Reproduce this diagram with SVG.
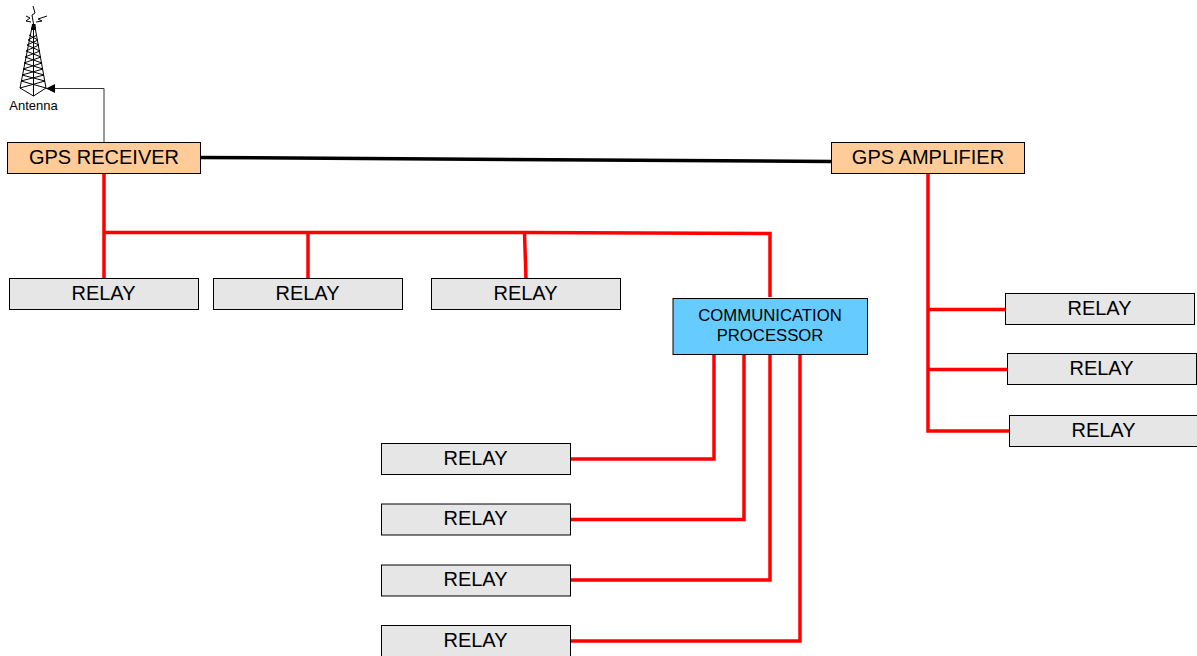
<svg xmlns="http://www.w3.org/2000/svg" width="1197" height="656" viewBox="0 0 1197 656">
<style>
text{font-family:"Liberation Sans",Arial,sans-serif;fill:#000;text-anchor:middle}
.t{font-size:20px}
.box{stroke:#000;stroke-width:1}
.relay{fill:#e6e6e6}
.gps{fill:#ffcc99}
.red{fill:none;stroke:#ff0000;stroke-width:3.5}
.tw{fill:none;stroke:#000;stroke-width:1}
</style>
<defs>
<marker id="arr" markerUnits="userSpaceOnUse" markerWidth="10" markerHeight="9" refX="9" refY="4.500" orient="auto"><path d="M0 0L9 4.500L0 9Z" fill="#000"/></marker>
<g id="relay"><rect class="box relay" x="0" y="0" width="189" height="31"/><text class="t" x="94" y="21">RELAY</text></g>
</defs>
<rect width="1197" height="656" fill="#fff"/>
<g id="connectors">
<path d="M104 142V88.500H46" fill="none" stroke="#333" stroke-width="1" marker-end="url(#arr)"/>
<path d="M199 157.500L832 161.500" fill="none" stroke="#000" stroke-width="3.500" stroke-linecap="round"/>
<path class="red" d="M104 172V280"/>
<path class="red" d="M104 232.500H524.500L770 233.500V297"/>
<path class="red" d="M308 232.500V279"/>
<path class="red" d="M524.500 232.500L526 279"/>
<path class="red" d="M714 353V459H570"/>
<path class="red" d="M744 353V519.500H570"/>
<path class="red" d="M770 353V580H570"/>
<path class="red" d="M800 353V641H570"/>
<path class="red" d="M928 172V431H1009"/>
<path class="red" d="M928 309.500H1005"/>
<path class="red" d="M928 369.500H1007"/>
</g>
<g id="antenna">
<path class="tw" d="M32 27L20 88L33.500 96L46 88L35 27M33.500 30V96M20 88L45 81L22 75L43 69L24 63L41 57L26 51L39 45L28 40L37 35M46 88L21 81L44 75L23 69L42 63L25 57L40 51L27 45L38 40L29 35"/>
<path d="M31 30H36L35.500 24H32Z" fill="#000"/>
<path class="tw" d="M33.500 24L32 15L35 13L33 6M31 22L26 21L30 18L26 16M36 22L42 21L38 19L47 16"/>
<text x="33.500" y="110" font-size="13">Antenna</text>
</g>
<g id="gps-receiver"><rect class="box gps" x="7.500" y="142.500" width="193" height="31"/><text class="t" x="104" y="164">GPS RECEIVER</text></g>
<g id="gps-amplifier"><rect class="box gps" x="831.500" y="142.500" width="193" height="31"/><text class="t" x="928" y="164">GPS AMPLIFIER</text></g>
<g id="communication-processor"><rect class="box" fill="#66ccff" x="673" y="298.500" width="194.500" height="56"/><text x="770" y="321" font-size="16.700">COMMUNICATION</text><text x="770" y="341" font-size="16.700">PROCESSOR</text></g>
<g id="relay-1"><use href="#relay" x="9.500" y="278.500"/></g>
<g id="relay-2"><use href="#relay" x="213.500" y="278.500"/></g>
<g id="relay-3"><use href="#relay" x="431.500" y="278.500"/></g>
<g id="relay-4"><use href="#relay" x="381.500" y="443.500"/></g>
<g id="relay-5"><use href="#relay" x="381.500" y="504"/></g>
<g id="relay-6"><use href="#relay" x="381.500" y="565"/></g>
<g id="relay-7"><use href="#relay" x="381.500" y="625.500"/></g>
<g id="relay-8"><use href="#relay" x="1005.500" y="293.500"/></g>
<g id="relay-9"><use href="#relay" x="1007.500" y="353.500"/></g>
<g id="relay-10"><use href="#relay" x="1009.500" y="415.500"/></g>
</svg>
